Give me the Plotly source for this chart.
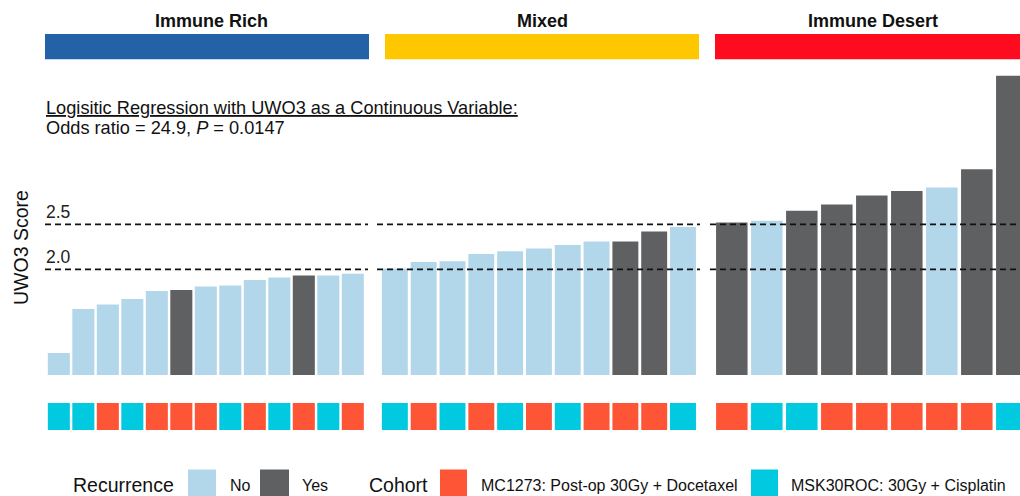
import plotly.graph_objects as go

# ---------------- data ----------------
groups = ["Immune Rich", "Mixed", "Immune Desert"]
group_colors = ["#2462A8", "#FFC700", "#FF0B1F"]

rich_scores = [1.07, 1.56, 1.61, 1.67, 1.76, 1.77, 1.81, 1.82, 1.88, 1.91, 1.93, 1.93, 1.95]
rich_recur = ["No", "No", "No", "No", "No", "Yes", "No", "No", "No", "No", "Yes", "No", "No"]
rich_cohort = ["MSK", "MSK", "MC", "MSK", "MC", "MC", "MC", "MSK", "MC", "MSK", "MC", "MSK", "MC"]

mixed_scores = [2.01, 2.08, 2.09, 2.17, 2.20, 2.23, 2.27, 2.31, 2.31, 2.42, 2.47]
mixed_recur = ["No", "No", "No", "No", "No", "No", "No", "No", "Yes", "Yes", "No"]
mixed_cohort = ["MSK", "MC", "MSK", "MC", "MSK", "MC", "MSK", "MC", "MC", "MC", "MSK"]

desert_scores = [2.52, 2.54, 2.65, 2.72, 2.82, 2.87, 2.91, 3.11, 4.15]
desert_recur = ["Yes", "No", "Yes", "Yes", "Yes", "Yes", "No", "Yes", "Yes"]
desert_cohort = ["MC", "MSK", "MSK", "MC", "MC", "MC", "MC", "MC", "MSK"]

thresholds = [2.0, 2.5]
threshold_labels = ["2.0", "2.5"]

recur_colors = {"No": "#B3D7EA", "Yes": "#5F6062"}
cohort_colors = {"MC": "#FF5537", "MSK": "#00C9E0"}
cohort_names = {"MC": "MC1273: Post-op 30Gy + Docetaxel", "MSK": "MSK30ROC: 30Gy + Cisplatin"}

# ---------------- layout helpers ----------------
W, H = 1020, 496
FONT = "Liberation Sans, Arial, sans-serif"


def fx(px):
    return px / W


def fy(py):
    return 1 - py / H


panels = [
    (rich_scores, rich_recur, rich_cohort),
    (mixed_scores, mixed_recur, mixed_cohort),
    (desert_scores, desert_recur, desert_cohort),
]
panel_px = [(45, 368), (377, 700), (710, 1020)]
panel_ranges = [(-0.565, 12.62), (-0.62, 10.59), (-0.623, 8.234)]
header_px = [(45, 369), (385, 699), (715, 1020)]
header_text_x = [211, 542, 873]

fig = go.Figure()

for i, (scores, recur, cohort) in enumerate(panels):
    xa = "x" if i == 0 else f"x{i + 1}"
    xs = list(range(len(scores)))
    fig.add_trace(go.Bar(
        x=xs, y=scores, xaxis=xa, yaxis="y",
        marker=dict(color=[recur_colors[r] for r in recur], line=dict(width=0)),
        showlegend=False, hovertemplate="%{y:.2f}<extra></extra>",
    ))
    fig.add_trace(go.Bar(
        x=xs, y=[1] * len(cohort), xaxis=xa, yaxis="y2",
        marker=dict(color=[cohort_colors[c] for c in cohort], line=dict(width=0)),
        customdata=[cohort_names[c] for c in cohort],
        showlegend=False, hovertemplate="%{customdata}<extra></extra>",
    ))

layout = dict(
    width=W, height=H,
    margin=dict(l=0, r=0, t=0, b=0),
    paper_bgcolor="white", plot_bgcolor="white",
    bargap=0.1,
    font=dict(family=FONT, color="#1a1a1a"),
    yaxis=dict(domain=[fy(375), fy(70)], range=[0.8256, 4.214], visible=False, anchor="x"),
    yaxis2=dict(domain=[fy(430), fy(403)], range=[0, 1], visible=False, anchor="x"),
)
for i in range(3):
    key = "xaxis" if i == 0 else f"xaxis{i + 1}"
    layout[key] = dict(domain=[fx(panel_px[i][0]), fx(panel_px[i][1])],
                       range=list(panel_ranges[i]), visible=False, anchor="y")

shapes = []
annotations = []

# header strips
for i, g in enumerate(groups):
    shapes.append(dict(type="rect", xref="paper", yref="paper",
                       x0=fx(header_px[i][0]), x1=fx(header_px[i][1]),
                       y0=fy(59.3), y1=fy(34), fillcolor=group_colors[i], line=dict(width=0)))
    annotations.append(dict(text=f"<b>{g}</b>", xref="paper", yref="paper",
                            x=fx(header_text_x[i]), y=fy(21), xanchor="center", yanchor="middle",
                            showarrow=False, font=dict(size=18, color="#111111")))

# threshold lines
for i in range(3):
    xr = "x domain" if i == 0 else f"x{i + 1} domain"
    for t in thresholds:
        shapes.append(dict(type="line", xref=xr, yref="y", x0=0, x1=1, y0=t, y1=t,
                           layer="above", line=dict(color="#111111", width=1.8, dash="6px,4px")))
for t, lab in zip(thresholds, threshold_labels):
    annotations.append(dict(text=lab, xref="paper", yref="y", x=fx(44), y=t,
                            xanchor="left", yanchor="bottom", yshift=0,
                            showarrow=False, font=dict(size=17.5, color="#222222")))

# regression text
annotations.append(dict(text="Logisitic Regression with UWO3 as a Continuous Variable:",
                        xref="paper", yref="paper", x=fx(44), y=fy(107.5),
                        xanchor="left", yanchor="middle", showarrow=False,
                        font=dict(size=18.2, color="#111111", lineposition="under")))
annotations.append(dict(text="Odds ratio = 24.9, <i>P</i> = 0.0147",
                        xref="paper", yref="paper", x=fx(44), y=fy(128.5),
                        xanchor="left", yanchor="middle", showarrow=False,
                        font=dict(size=18.2, color="#111111")))

# y-axis title
annotations.append(dict(text="UWO3 Score", xref="paper", yref="paper", x=fx(21), y=fy(248),
                        xanchor="center", yanchor="middle", textangle=-90, showarrow=False,
                        font=dict(size=19.5, color="#111111")))

# legend (manual)
leg_y = 485
key_top, key_bot = 469.5, 498
legend_keys = [
    (188, 216, recur_colors["No"]),
    (260, 289, recur_colors["Yes"]),
    (440, 467, cohort_colors["MC"]),
    (751, 778, cohort_colors["MSK"]),
]
for x0, x1, c in legend_keys:
    shapes.append(dict(type="rect", xref="paper", yref="paper", x0=fx(x0), x1=fx(x1),
                       y0=fy(key_bot), y1=fy(key_top), fillcolor=c, line=dict(width=0)))
legend_texts = [
    (71, "Recurrence", 19.5),
    (228, "No", 16),
    (300, "Yes", 16),
    (367, "Cohort", 19.5),
    (479, cohort_names["MC"], 16),
    (789, cohort_names["MSK"], 16),
]
for x, t, s in legend_texts:
    annotations.append(dict(text=t, xref="paper", yref="paper", x=fx(x), y=fy(leg_y),
                            xanchor="left", yanchor="middle", showarrow=False,
                            font=dict(size=s, color="#111111")))

layout["shapes"] = shapes
layout["annotations"] = annotations
fig.update_layout(**layout)

fig.write_html(
    "out.html",
    config={"displayModeBar": False},
    post_script="document.body.style.margin='0';document.body.style.overflow='hidden';",
)
